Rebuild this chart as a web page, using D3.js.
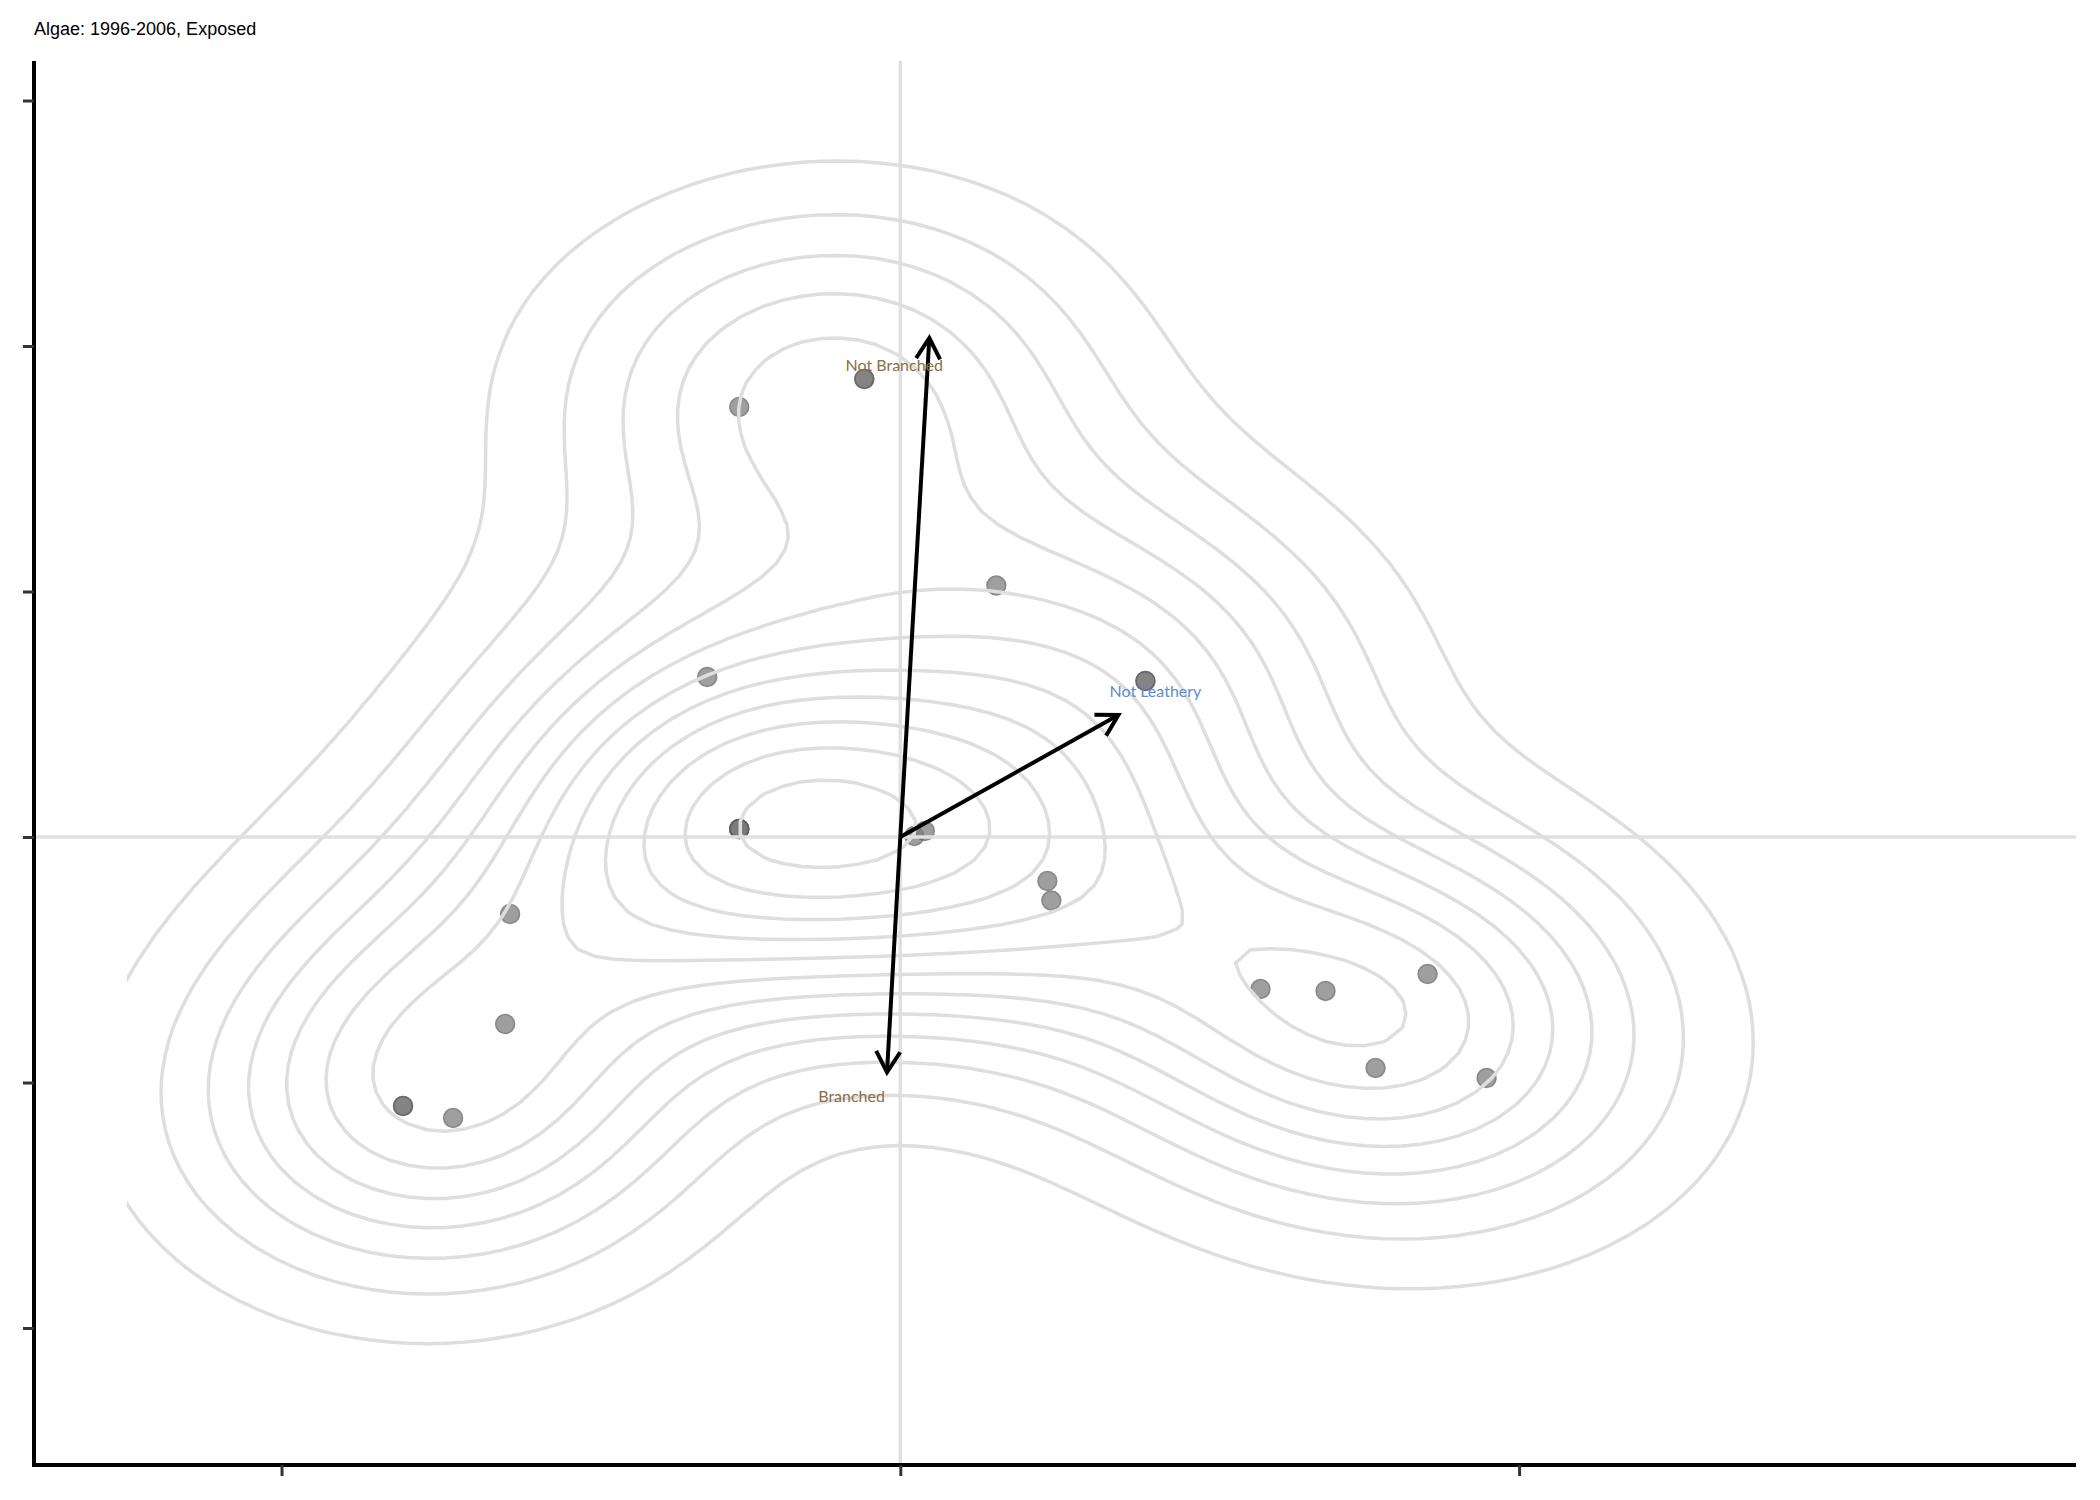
<!DOCTYPE html>
<html><head><meta charset="utf-8">
<script src="https://cdn.jsdelivr.net/npm/d3@7"></script>
<style>body{margin:0;background:#fff;} svg{display:block;}</style>
</head><body>
<svg id="chart" width="2100" height="1500"></svg>
<script>
// ---- data ----
const title = "Algae: 1996-2006, Exposed";
// site scores (overlapping sites are listed once per site)
const pointX = [-0.2603, -0.0582, -0.0582, 0.1552, -0.3120, 0.3961, 0.3961,
                -0.2603, -0.2603, -0.2603, -0.2603,
                0.0226, 0.0396, 0.2377, 0.2441, -0.6306, -0.6386, -0.8036, -0.8036, -0.7227,
                0.5821, 0.6872, 0.8521, 0.7680, 0.9475];
const pointY = [1.7515, 1.8656, 1.8656, 1.0244, 0.6517, 0.6354, 0.6354,
                0.0326, 0.0326, 0.0326, 0.0326,
                0.0041, 0.0244, -0.1792, -0.2587, -0.3136, -0.7617, -1.0957, -1.0957, -1.1446,
                -0.6191, -0.6273, -0.5580, -0.9409, -0.9817];
// trait vectors
const vectorNames = ["Not Branched", "Not Leathery", "Branched"];
const vectorX = [0.0469, 0.3525, -0.0215];
const vectorY = [2.0326, 0.4969, -0.9585];
const labelX = [-0.0097, 0.4123, -0.0787];
const labelY = [1.9267, 0.595, -1.0537];
const vectorColors = ["#8c6d45", "#5b8bd3", "#8c6d45"];
// density contour levels
const contourLevels = [0.025, 0.05, 0.075, 0.1, 0.125, 0.15, 0.175, 0.2, 0.225, 0.25, 0.275, 0.3];
// axes
const xTicks = [-1, 0, 1];
const yTicks = [-2, -1, 0, 1, 2, 3];
const xLimits = [-1.25, 1.75];
const yLimits = [-2.298, 2.901];

// ---- layout ----
const svg = d3.select("#chart");
const pLeft = 34, pRight = 2076, pTop = 61, pBottom = 1465;
const expand = (l) => { const d = (l[1] - l[0]) * 0.05; return [l[0] - d, l[1] + d]; };
const xs = d3.scaleLinear().domain(expand(xLimits)).range([pLeft, pRight]);
const ys = d3.scaleLinear().domain(expand(yLimits)).range([pBottom, pTop]);

svg.append("rect").attr("width", 2100).attr("height", 1500).attr("fill", "#fff");

// title
svg.append("text").attr("x", 34).attr("y", 35)
  .attr("font-family", "'Liberation Sans', Arial, sans-serif").attr("font-size", 18)
  .attr("fill", "#000").text(title);

// ---- points ----
const pts = d3.range(pointX.length).map(i => ({x: pointX[i], y: pointY[i]}));
svg.append("g").selectAll("circle").data(pts).join("circle")
  .attr("cx", d => xs(d.x)).attr("cy", d => ys(d.y)).attr("r", 9.3)
  .attr("fill", "#7b7b7b").attr("stroke", "#5e5e5e").attr("stroke-width", 1.8)
  .attr("opacity", 0.72);

// ---- reference lines ----
const grid = svg.append("g").attr("stroke", "#e0e0e0").attr("stroke-width", 3.5);
grid.append("line").attr("x1", xs(0)).attr("x2", xs(0)).attr("y1", pTop).attr("y2", pBottom);
grid.append("line").attr("x1", pLeft).attr("x2", pRight).attr("y1", ys(0)).attr("y2", ys(0));

// ---- 2D kernel density (kde2d style) ----
function bandwidthNrd(v) {
  const s = d3.deviation(v);
  const sorted = v.slice().sort(d3.ascending);
  const iqr = d3.quantileSorted(sorted, 0.75) - d3.quantileSorted(sorted, 0.25);
  return 4 * 1.06 * Math.min(s, iqr / 1.34) * Math.pow(v.length, -0.2);
}
const N = 100;
const hx = bandwidthNrd(pointX) / 4, hy = bandwidthNrd(pointY) / 4;
const stepX = (xLimits[1] - xLimits[0]) / (N - 1), stepY = (yLimits[1] - yLimits[0]) / (N - 1);
const values = new Array(N * N);
for (let j = 0; j < N; j++) {
  const gy = yLimits[0] + j * stepY;
  for (let i = 0; i < N; i++) {
    const gx = xLimits[0] + i * stepX;
    let s = 0;
    for (let k = 0; k < pointX.length; k++) {
      const a = (gx - pointX[k]) / hx, b = (gy - pointY[k]) / hy;
      s += Math.exp(-0.5 * (a * a + b * b));
    }
    values[j * N + i] = s / (2 * Math.PI * pointX.length * hx * hy);
  }
}
const maxD = d3.max(values);
const contours = d3.contours().size([N, N]).thresholds(contourLevels.filter(t => t < maxD))(values);
const proj = d3.geoTransform({
  point: function (cx, cy) {
    this.stream.point(xs(xLimits[0] + (cx - 0.5) * stepX), ys(yLimits[0] + (cy - 0.5) * stepY));
  }
});
const defs = svg.append("defs");
defs.append("clipPath").attr("id", "gridclip").append("rect")
  .attr("x", xs(xLimits[0])).attr("y", ys(yLimits[1]))
  .attr("width", xs(xLimits[1]) - xs(xLimits[0])).attr("height", ys(yLimits[0]) - ys(yLimits[1]));
svg.append("g").attr("clip-path", "url(#gridclip)").selectAll("path").data(contours).join("path")
  .attr("d", d3.geoPath(proj)).attr("fill", "none").attr("stroke", "#dedede")
  .attr("stroke-width", 3.5).attr("stroke-linejoin", "round");

// ---- vectors ----
const vg = svg.append("g").attr("stroke", "#000").attr("stroke-width", 4).attr("fill", "none")
  .attr("stroke-linecap", "butt").attr("stroke-linejoin", "miter");
vectorNames.forEach((name, i) => {
  const x0 = xs(0), y0 = ys(0), x1 = xs(vectorX[i]), y1 = ys(vectorY[i]);
  vg.append("line").attr("x1", x0).attr("y1", y0).attr("x2", x1).attr("y2", y1);
  const ang = Math.atan2(y0 - y1, x0 - x1), L = 24, a = Math.PI / 6;
  const p1 = [x1 + L * Math.cos(ang + a), y1 + L * Math.sin(ang + a)];
  const p2 = [x1 + L * Math.cos(ang - a), y1 + L * Math.sin(ang - a)];
  vg.append("path").attr("d", `M${p1[0]},${p1[1]}L${x1},${y1}L${p2[0]},${p2[1]}`);
});
svg.append("g").selectAll("text").data(vectorNames).join("text")
  .attr("x", (d, i) => xs(labelX[i])).attr("y", (d, i) => ys(labelY[i]))
  .attr("text-anchor", "middle").attr("dominant-baseline", "central")
  .attr("font-family", "Lato, 'Noto Sans', sans-serif").attr("font-size", 16)
  .attr("fill", (d, i) => vectorColors[i]).text(d => d);

// ---- axes ----
const xAxis = svg.append("g").attr("transform", `translate(0,${pBottom})`)
  .call(d3.axisBottom(xs).tickValues(xTicks).tickFormat("").tickSize(11).tickSizeOuter(0));
const yAxis = svg.append("g").attr("transform", `translate(${pLeft},0)`)
  .call(d3.axisLeft(ys).tickValues(yTicks).tickFormat("").tickSize(11).tickSizeOuter(0));
[xAxis, yAxis].forEach(g => {
  g.select(".domain").attr("stroke", "#000").attr("stroke-width", 4);
  g.selectAll(".tick line").attr("stroke", "#333").attr("stroke-width", 3);
});
yAxis.select(".domain").attr("d", `M0,${pTop}V${pBottom + 2}`);
xAxis.select(".domain").attr("d", `M${pLeft - 2},0H${pRight}`);
</script>
</body></html>
